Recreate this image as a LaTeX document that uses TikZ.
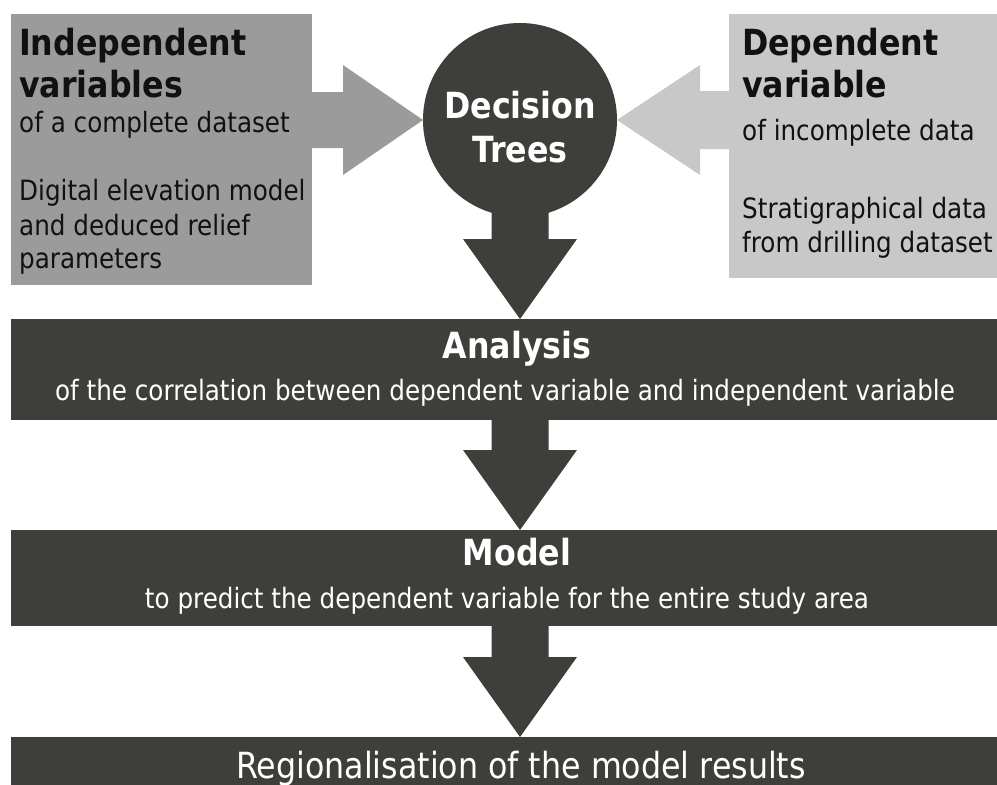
\documentclass[tikz,border=0pt]{standalone}
\usepackage{fontspec}
\setmainfont[FakeStretch=0.88]{DejaVu Sans}
\usetikzlibrary{calc}
\definecolor{dk}{RGB}{62,62,58}
\definecolor{midgray}{RGB}{154,155,154}
\definecolor{lightgray2}{RGB}{200,200,200}
\definecolor{ink}{RGB}{17,17,17}
\newcommand\bigdown[3]{%
  \fill[#3] ($(#1)+(-28.5,0)$) -- ($(#1)+(28.5,0)$) -- ($(#2)+(28.5,-80)$) --
    ($(#2)+(57,-80)$) -- (#2) -- ($(#2)+(-57,-80)$) -- ($(#2)+(-28.5,-80)$) -- cycle;}
\begin{document}
\begin{tikzpicture}[x=1pt,y=-1pt,
  panel/.style={rectangle, inner sep=0pt, outer sep=0pt, anchor=north west},
  head/.style={inner sep=0pt, font=\fontsize{36}{42}\selectfont\bfseries},
  body/.style={inner sep=0pt, font=\fontsize{28}{34}\selectfont},
  big/.style={inner sep=0pt, font=\fontsize{36}{42}\selectfont},
  dtext/.style={text=ink, anchor=base west},
  wtext/.style={text=white, anchor=base}
]
\useasboundingbox[fill=white] (0,0) rectangle (997,785);

% panels
\node[panel, fill=midgray, minimum width=301pt, minimum height=271pt] (lbox) at (11,14) {};
\node[panel, fill=lightgray2, minimum width=268pt, minimum height=264pt] (rbox) at (729,14) {};
\node[circle, fill=dk, minimum size=194pt, inner sep=0pt, outer sep=0pt] (dt) at (520,120) {};
\node[panel, fill=dk, minimum width=986pt, minimum height=101pt] (ana) at (11,319) {};
\node[panel, fill=dk, minimum width=986pt, minimum height=96pt] (mod) at (11,530) {};
\node[panel, fill=dk, minimum width=986pt, minimum height=48pt] (reg) at (11,737) {};

% side arrows
\coordinate (la) at (lbox.east |- dt.center);
\coordinate (lt) at (dt.west);
\fill[midgray] ($(la)+(0,-28)$) -- ($(lt)+(-80,-28)$) -- ($(lt)+(-80,-55)$) -- (lt) --
  ($(lt)+(-80,55)$) -- ($(lt)+(-80,28)$) -- ($(la)+(0,28)$) -- cycle;
\coordinate (ra) at (rbox.west |- dt.center);
\coordinate (rt) at (dt.east);
\fill[lightgray2] ($(ra)+(0,-29)$) -- ($(rt)+(83,-29)$) -- ($(rt)+(83,-55)$) -- (rt) --
  ($(rt)+(83,55)$) -- ($(rt)+(83,29)$) -- ($(ra)+(0,29)$) -- cycle;

% down arrows
\coordinate (d1s) at ($(dt.south)+(0,-15)$);
\coordinate (d1t) at (ana.north -| dt.center);
\bigdown{d1s}{d1t}{dk}
\coordinate (d2s) at ($(ana.south -| dt.center)+(0,-1)$);
\coordinate (d2t) at (mod.north -| dt.center);
\bigdown{d2s}{d2t}{dk}
\coordinate (d3s) at ($(mod.south -| dt.center)+(0,-1)$);
\coordinate (d3t) at (reg.north -| dt.center);
\bigdown{d3s}{d3t}{dk}

% left box text
\node[head, dtext] (l1) at (19,55) {Independent};
\node[head, dtext] (l2) at (19,97) {variables};
\node[body, dtext] (l3) at (19,132) {of a complete dataset};
\node[body, dtext] (l4) at (19,200) {Digital elevation model};
\node[body, dtext] (l5) at (19,235) {and deduced relief};
\node[body, dtext] (l6) at (19,268) {parameters};

% right box text
\node[head, dtext] (r1) at (742,55) {Dependent};
\node[head, dtext] (r2) at (742,97) {variable};
\node[body, dtext] (r3) at (742,140) {of incomplete data};
\node[body, dtext] (r4) at (742,218) {Stratigraphical data};
\node[body, dtext] (r5) at (742,252) {from drilling dataset};

% circle text
\node[head, wtext] (c1) at (520,118) {Decision};
\node[head, wtext] (c2) at (520,162) {Trees};

% analysis
\node[head, wtext] (a1) at (517,358) {Analysis};
\node[body, wtext] (a2) at (505,400) {of the correlation between dependent variable and independent variable};

% model
\node[head, wtext] (m1) at (517,565) {Model};
\node[body, wtext] (m2) at (507,608) {to predict the dependent variable for the entire study area};

% regionalisation
\node[big, wtext] (g1) at (521,778) {Regionalisation of the model results};
\end{tikzpicture}
\end{document}
